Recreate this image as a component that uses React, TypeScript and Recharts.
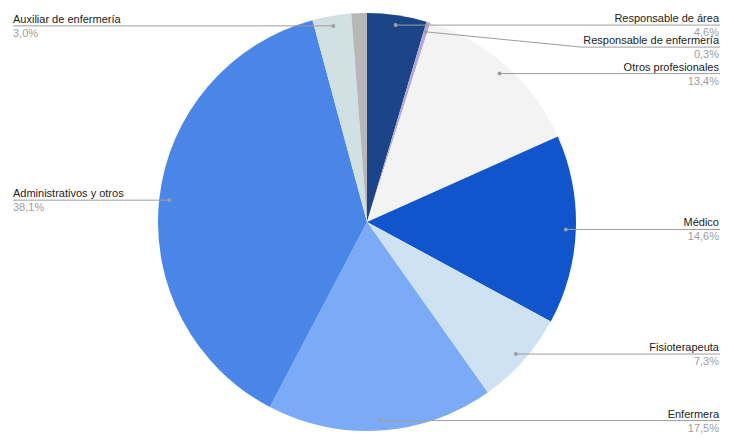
import { PieChart, Pie, Cell } from 'recharts';

const CATEGORIES = [
  'Responsable de área',
  'Responsable de enfermería',
  'Otros profesionales',
  'Médico',
  'Fisioterapeuta',
  'Enfermera',
  'Administrativos y otros',
  'Auxiliar de enfermería',
  '',
];
const VALUES = [4.6, 0.3, 13.4, 14.6, 7.3, 17.5, 38.1, 3.0, 1.2];
const COLORS = ['#1c4587', '#b4a7d6', '#f3f3f3', '#1155cc', '#cfe2f3', '#7baaf7', '#4a86e8', '#d0e0e3', '#b7b7b7'];

const W = 734;
const H = 445;
const CX = 367;
const CY = 222;
const R = 209;
const DOT_R = R * 0.952;
const RIGHT_X = 720;
const LEFT_X = 13;
const GAP = 22;
const FONT = "Arial, 'Liberation Sans', sans-serif";

const chartData = CATEGORIES.map((name, i) => ({ name, value: VALUES[i], color: COLORS[i] }));

// how far each label has to be pushed down so neighbours don't collide
const total = VALUES.reduce((a, b) => a + b, 0);
const pushDown = (() => {
  let acc = 0;
  const items = VALUES.map((v, i) => {
    const mid = ((acc + v / 2) / total) * Math.PI * 2; // clockwise from top
    acc += v;
    return { i, side: Math.sin(mid) >= 0 ? 'right' : 'left', y: CY - Math.cos(mid) * DOT_R };
  });
  const out: number[] = VALUES.map(() => 0);
  for (const side of ['right', 'left']) {
    const list = items.filter((it) => it.side === side && CATEGORIES[it.i]).sort((a, b) => a.y - b.y);
    let prev = -Infinity;
    list.forEach((it) => {
      const y = Math.max(it.y, prev + GAP);
      out[it.i] = y - it.y;
      prev = y;
    });
  }
  return out;
})();

const RADIAN = Math.PI / 180;

function renderLabel(props: any) {
  const { cx, cy, midAngle, index, name, value } = props;
  if (!name) return null;
  const dotX = cx + DOT_R * Math.cos(-midAngle * RADIAN);
  const dotY = cy + DOT_R * Math.sin(-midAngle * RADIAN);
  const lineY = dotY + pushDown[index];
  const right = dotX >= cx;
  const endX = right ? RIGHT_X : LEFT_X;
  const textW = name.length * 5.3;
  let points = `${dotX},${dotY} ${endX},${lineY}`;
  if (pushDown[index] > 0.5) {
    const bendX = right ? endX - textW - 6 : endX + textW + 6;
    points = `${dotX},${dotY} ${bendX},${lineY} ${endX},${lineY}`;
  }
  const pct = value.toFixed(1).replace('.', ',') + '%';
  const tx = right ? endX - 1 : endX;
  const anchor = right ? 'end' : 'start';
  return (
    <g key={`lbl-${index}`}>
      <polyline points={points} fill="none" stroke="#9e9e9e" strokeWidth={1} />
      <circle cx={dotX} cy={dotY} r={2} fill="#9e9e9e" />
      <text x={tx} y={lineY - 3} textAnchor={anchor} fontSize={11} fill="#222222" fontFamily={FONT}>
        {name}
      </text>
      <text x={tx} y={lineY + 11} textAnchor={anchor} fontSize={11} fill="#9e9e9e" fontFamily={FONT}>
        {pct}
      </text>
    </g>
  );
}

export default function App() {
  return (
    <div style={{ position: 'absolute', left: 0, top: 0, width: W, height: H, background: '#ffffff' }}>
      <PieChart width={W} height={H} margin={{ top: 0, right: 0, bottom: 0, left: 0 }}>
        <Pie
          data={chartData}
          dataKey="value"
          nameKey="name"
          cx={CX}
          cy={CY}
          outerRadius={R}
          startAngle={90}
          endAngle={-270}
          stroke="none"
          label={renderLabel}
          labelLine={false}
          isAnimationActive={false}
        >
          {chartData.map((entry, index) => (
            <Cell key={`cell-${index}`} fill={entry.color} stroke="none" />
          ))}
        </Pie>
      </PieChart>
    </div>
  );
}
